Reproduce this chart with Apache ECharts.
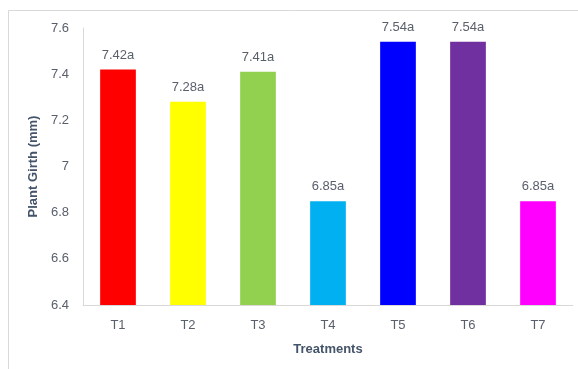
<!DOCTYPE html>
<html>
<head>
<meta charset="utf-8">
<script src="https://cdn.jsdelivr.net/npm/echarts@6/dist/echarts.min.js"></script>
<style>
  html, body { margin: 0; padding: 0; background: #fff; }
  #chart { width: 578px; height: 369px; }
</style>
</head>
<body>
<div id="chart"></div>
<script>
var categories = ["T1", "T2", "T3", "T4", "T5", "T6", "T7"];
var girth = [7.42, 7.28, 7.41, 6.85, 7.54, 7.54, 6.85];
var letters = ["a", "a", "a", "a", "a", "a", "a"];
var barColors = ["#FF0000", "#FFFF00", "#92D050", "#00B0F0", "#0000FF", "#7030A0", "#FF00FF"];
var yTicks = [6.4, 6.6, 6.8, 7, 7.2, 7.4, 7.6];

var textColor = "#595f6b";
var font = "'Liberation Sans', Arial, sans-serif";

var chart = echarts.init(document.getElementById("chart"));

var option = {
  animation: false,
  textStyle: { fontFamily: font },
  graphic: [
    {
      // outer chart frame
      type: "rect",
      shape: { x: 8.5, y: 10.5, width: 600, height: 400 },
      style: { fill: "none", stroke: "#d9d9d9", lineWidth: 1 },
      silent: true
    }
  ],
  grid: { left: 83, right: 5, top: 28, bottom: 64 },
  xAxis: {
    type: "category",
    data: categories,
    name: "Treatments",
    nameLocation: "middle",
    nameGap: 38,
    nameTextStyle: { color: "#44546a", fontWeight: "bold", fontSize: 13, fontFamily: font },
    axisLine: { lineStyle: { color: "#d9d9d9" } },
    axisTick: { show: false },
    axisLabel: { color: textColor, fontSize: 13, margin: 14, fontFamily: font }
  },
  yAxis: {
    type: "value",
    min: yTicks[0],
    max: yTicks[yTicks.length - 1],
    interval: 0.2,
    name: "Plant Girth (mm)",
    nameLocation: "middle",
    nameGap: 38,
    nameTextStyle: { color: "#44546a", fontWeight: "bold", fontSize: 13, fontFamily: font },
    axisLine: { show: true, lineStyle: { color: "#d9d9d9" } },
    axisTick: { show: false },
    splitLine: { show: false },
    axisLabel: {
      color: textColor,
      fontSize: 13,
      margin: 14,
      fontFamily: font,
      formatter: function (v) { return String(Math.round(v * 10) / 10); }
    }
  },
  series: [
    {
      type: "bar",
      barWidth: "51%",
      data: girth.map(function (v, i) {
        return { value: v, itemStyle: { color: barColors[i] } };
      }),
      label: {
        show: true,
        position: "top",
        distance: 8,
        color: textColor,
        fontSize: 13,
        fontFamily: font,
        formatter: function (p) { return p.value.toFixed(2) + letters[p.dataIndex]; }
      }
    }
  ]
};

chart.setOption(option);
</script>
</body>
</html>
